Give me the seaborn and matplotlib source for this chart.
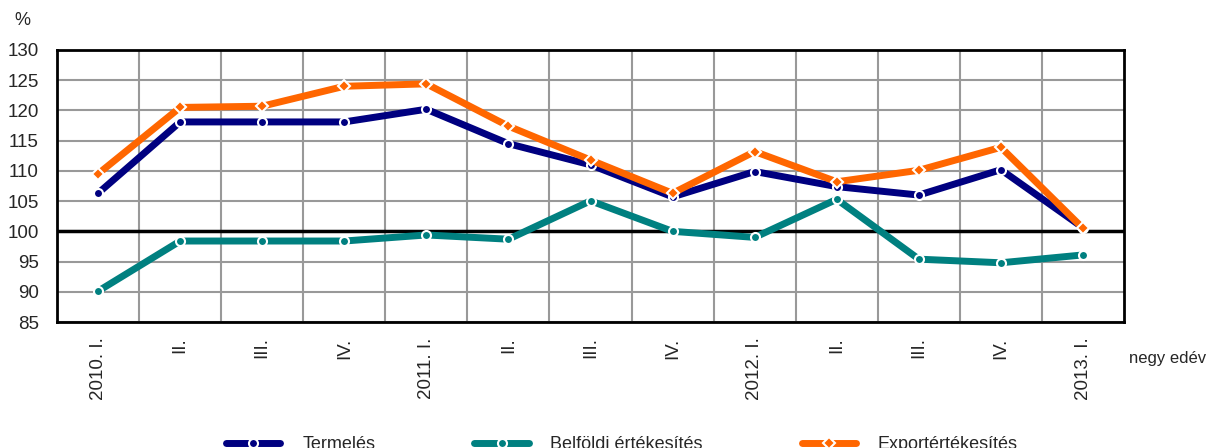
import numpy as np
import pandas as pd
import matplotlib
matplotlib.use("Agg")
import matplotlib.pyplot as plt
import seaborn as sns

# quarters
quarters = ["2010. I.", "II.", "III.", "IV.", "2011. I.", "II.", "III.", "IV.",
            "2012. I.", "II.", "III.", "IV.", "2013. I."]

termeles = [106.3, 118.1, 118.1, 118.1, 120.2, 114.5, 111.0, 105.7, 109.9, 107.4, 106.0, 110.2, 100.6]
belfoldi = [90.1, 98.4, 98.4, 98.4, 99.4, 98.7, 105.05, 100.0, 99.0, 105.3, 95.4, 94.8, 96.1]
export = [109.5, 120.5, 120.7, 124.0, 124.4, 117.4, 111.8, 106.3, 113.2, 108.2, 110.1, 113.9, 100.5]

series_names = ["Termelés", "Belföldi értékesítés", "Exportértékesítés"]
colors = ["#000080", "#008080", "#FF6600"]
markers = ["o", "o", "D"]

sns.set_style("white")
plt.rcParams['font.family'] = ['Liberation Sans', 'DejaVu Sans']

rows = []
for name, vals in zip(series_names, [termeles, belfoldi, export]):
    for i, v in enumerate(vals):
        rows.append({"pos": i, "value": v, "series": name})
df = pd.DataFrame(rows)

fig = plt.figure(figsize=(12.08, 4.48), dpi=100)
ax = fig.add_axes([0.0472, 0.2812, 0.8833, 0.6072])

for name, col, mk in zip(series_names, colors, markers):
    sub = df[df["series"] == name]
    sns.lineplot(data=sub, x="pos", y="value", ax=ax, color=col, linewidth=5,
                 marker=mk, markersize=6.5 if mk == "o" else 6,
                 markerfacecolor=col, markeredgecolor="white", markeredgewidth=1.5,
                 label=name, legend=False, zorder=4)

ax.axhline(100, color="black", linewidth=2.5, zorder=3)

ax.set_xlim(-0.5, len(quarters) - 0.5)
ax.set_ylim(85, 130)
ax.set_yticks(np.arange(85, 131, 5))
ax.set_xticks(np.arange(len(quarters)))
ax.set_xticklabels(quarters, rotation=90, va="top", ha="center", fontsize=13.5)
ax.set_xticks(np.arange(0.5, len(quarters) - 0.5, 1), minor=True)
ax.tick_params(axis="y", labelsize=13.5, length=0, pad=13)
ax.tick_params(axis="x", which="major", length=0, pad=11)
ax.tick_params(axis="x", which="minor", length=4, direction="out", color="#888888")
ax.grid(axis="y", which="major", color="#999999", linewidth=1.5)
ax.grid(axis="x", which="minor", color="#999999", linewidth=1.5)
ax.grid(axis="x", which="major", visible=False)
ax.set_axisbelow(True)
for sp in ax.spines.values():
    sp.set_color("black")
    sp.set_linewidth(2)
ax.set_xlabel("")
ax.set_ylabel("")

fig.text(0.012, 0.955, "%", fontsize=13, ha="left", va="center")
fig.text(0.935, 0.2, "negy edév", fontsize=12, ha="left", va="center")

h, l = ax.get_legend_handles_labels()
fig.legend(h, l, loc="center", bbox_to_anchor=(0.515, 0.008), ncol=3, frameon=False,
           fontsize=13, handlelength=3.0, columnspacing=5.5, handletextpad=1.2)

fig.savefig("out.png", dpi=100)
